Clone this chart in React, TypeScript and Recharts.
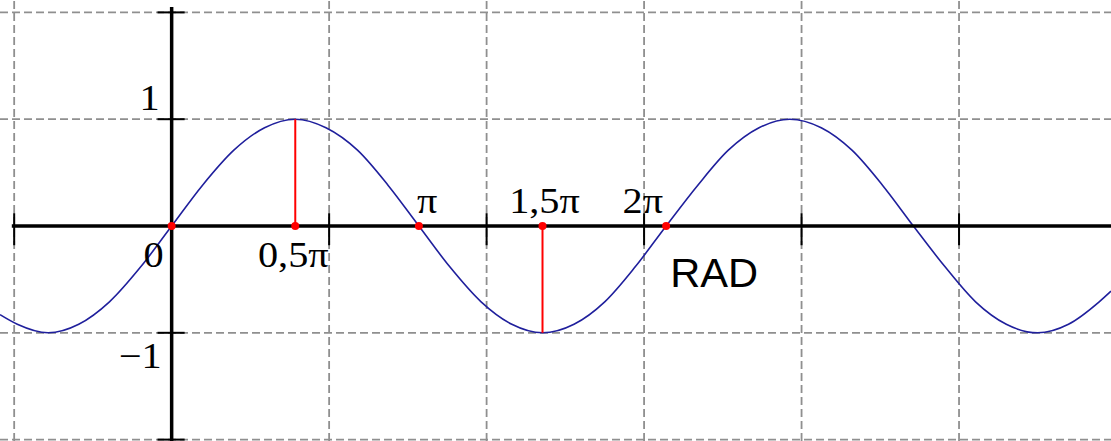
import { ComposedChart, Line, ReferenceLine, Scatter, XAxis, YAxis } from "recharts";

// sine curve (x in radians)
const curveX = [
  -2.18, -1.96, -1.57, -1.18, -0.79, -0.39, 0, 0.39, 0.79, 1.18, 1.57, 1.96, 2.36, 2.75, 3.14, 3.53, 3.93, 4.32, 4.71,
  5.11, 5.5, 5.89, 6.28, 6.68, 7.07, 7.46, 7.85, 8.25, 8.64, 9.03, 9.42, 9.82, 10.21, 10.6, 11.0, 11.39, 11.78, 11.93,
];
const curveY = [
  -0.83, -0.92, -1, -0.92, -0.71, -0.38, 0, 0.38, 0.71, 0.92, 1, 0.92, 0.71, 0.38, 0, -0.38, -0.71, -0.92, -1, -0.92,
  -0.71, -0.38, 0, 0.38, 0.71, 0.92, 1, 0.92, 0.71, 0.38, 0, -0.38, -0.71, -0.92, -1, -0.92, -0.71, -0.61,
];

const gridX = [-2, 2, 4, 6, 8, 10];
const gridY = [2, 1, -1, -2];
const tickX = [-2, 2, 4, 6, 8, 10];
const tickY = [2, 1, -1, -2];

const piValues = [1.57, 3.14, 4.71, 6.28];
const piLabels = ["0,5π", "π", "1,5π", "2π"];
const dotValues = [0, 1.57, 3.14, 4.71, 6.28];
const stemX = [1.57, 4.71];
const stemY = [1, -1];

const yLabels = ["1", "−1", "0"];
const yLabelValues = [1, -1, 0];
const unitLabel = "RAD";

const X_DOMAIN: [number, number] = [-2.18, 11.93];
const Y_DOMAIN: [number, number] = [-2.013, 2.116];

const curve = curveX.map((x, i) => ({ x, y: curveY[i] }));
const dots = dotValues.map((x) => ({ x, y: 0 }));

// offsets in px: [dx, dy, anchor, font]
const labelStyle: Record<string, [number, number, string, string]> = {
  "1": [-12, -9, "end", "serif"],
  "−1": [-10, 35, "end", "serif"],
  "0": [-8, 41, "end", "serif"],
  "0,5π": [-2, 41, "middle", "serif"],
  "π": [-2, -13, "start", "serif"],
  "1,5π": [2, -13, "middle", "serif"],
  "2π": [-3, -13, "end", "serif"],
  RAD: [4, 61, "start", "sans"],
};

const labels = [
  ...yLabels.map((text, i) => ({ x: 0, y: yLabelValues[i], text })),
  ...piLabels.map((text, i) => ({ x: piValues[i], y: 0, text })),
  { x: piValues[3], y: 0, text: unitLabel },
];

function LabelShape(props: any) {
  const { cx, cy, payload } = props;
  const [dx, dy, anchor, font] = labelStyle[payload.text];
  const serif = font === "serif";
  return (
    <text
      transform={`translate(${cx + dx},${cy + dy}) scale(${serif ? 1.12 : 1.04},1)`}
      textAnchor={anchor}
      fontFamily={serif ? "'Liberation Serif', serif" : "'Liberation Sans', Arial, sans-serif"}
      fontSize={serif ? 36 : 40}
      fill="#000"
    >
      {payload.text}
    </text>
  );
}

function DotShape(props: any) {
  return <circle cx={props.cx} cy={props.cy} r={4} fill="#ff0000" />;
}

export default function App() {
  return (
    <div style={{ position: "absolute", left: 0, top: 0, background: "#fff" }}>
      <ComposedChart width={1111} height={441} margin={{ top: 0, right: 0, bottom: 0, left: 0 }}>
        <XAxis type="number" dataKey="x" domain={X_DOMAIN} allowDataOverflow hide />
        <YAxis type="number" dataKey="y" domain={Y_DOMAIN} allowDataOverflow hide />

        {gridX.map((x) => (
          <ReferenceLine key={`gx${x}`} x={x} stroke="#8f8f8f" strokeWidth={1.8} strokeDasharray="8 4" />
        ))}
        {gridY.map((y) => (
          <ReferenceLine key={`gy${y}`} y={y} stroke="#8f8f8f" strokeWidth={1.8} strokeDasharray="8 4" />
        ))}

        <Line
          data={curve}
          dataKey="y"
          type="monotone"
          stroke="#1f1f9c"
          strokeWidth={1.6}
          dot={false}
          activeDot={false}
          isAnimationActive={false}
        />

        <ReferenceLine
          segment={[
            { x: -2.03, y: 0 },
            { x: 11.93, y: 0 },
          ]}
          stroke="#000"
          strokeWidth={3.5}
        />
        <ReferenceLine
          segment={[
            { x: 0, y: 2.05 },
            { x: 0, y: -2.013 },
          ]}
          stroke="#000"
          strokeWidth={3.5}
        />
        {tickX.map((x) => (
          <ReferenceLine
            key={`tx${x}`}
            segment={[
              { x, y: 0.12 },
              { x, y: -0.18 },
            ]}
            stroke="#000"
            strokeWidth={2}
          />
        ))}
        {tickY.map((y) => (
          <ReferenceLine
            key={`ty${y}`}
            segment={[
              { x: -0.18, y },
              { x: 0.165, y },
            ]}
            stroke="#000"
            strokeWidth={2}
          />
        ))}
        {stemX.map((x, i) => (
          <ReferenceLine
            key={`s${x}`}
            segment={[
              { x, y: 0 },
              { x, y: stemY[i] },
            ]}
            stroke="#ff0000"
            strokeWidth={2}
          />
        ))}

        <Scatter data={dots} shape={DotShape} isAnimationActive={false} />
        <Scatter data={labels} shape={LabelShape} isAnimationActive={false} />
      </ComposedChart>
    </div>
  );
}
